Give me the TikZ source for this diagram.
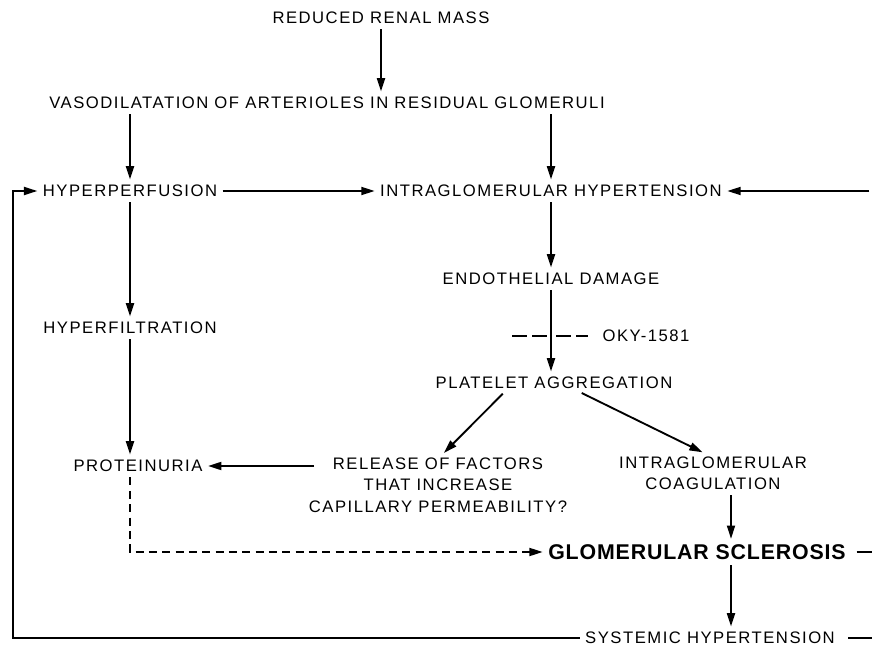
\documentclass[tikz,border=0pt]{standalone}
\usepackage{fontspec}
\setmainfont{Liberation Sans}[LetterSpace=9]
\newfontfamily\sclfont{Liberation Sans}[LetterSpace=4]
\usetikzlibrary{arrows.meta,positioning}
\tikzset{
    >={Triangle[length=10pt,width=6pt]}, % long filled heads
    txt/.style={inner sep=2pt, font=\fontsize{12.5}{16}\selectfont},
    big/.style={inner sep=2pt, font=\sclfont\fontsize{16}{19}\selectfont\bfseries},
    link/.style={line width=1.4pt, shorten <=2pt},
    flow/.style={link, ->, shorten >=2pt},
    dashflow/.style={flow, dash pattern=on 6pt off 4pt},
    blocker/.style={line width=2.2pt, dash pattern=on 11pt off 4pt},
}

\begin{document}
\begin{tikzpicture}[x=0.75pt, y=-0.75pt]
    \useasboundingbox (0,0) rectangle (872,652);

    % texts
    \node[txt] (mass) at (381,18) {REDUCED RENAL MASS};
    \node[txt] (vaso) at (327,103) {VASODILATATION OF ARTERIOLES IN RESIDUAL GLOMERULI};
    \node[txt] (perf) at (130,191) {HYPERPERFUSION};
    \node[txt] (ight) at (551,191) {INTRAGLOMERULAR HYPERTENSION};
    \node[txt] (endo) at (551,279) {ENDOTHELIAL DAMAGE};
    \node[txt] (filt) at (130,328) {HYPERFILTRATION};
    \node[txt] (oky) at (646,336) {OKY-1581};
    \node[txt] (plt) at (554,383) {PLATELET AGGREGATION};
    \node[txt] (prot) at (138,466) {PROTEINURIA};
    \node[txt, align=center] (rel) at (438,485)
        {RELEASE OF FACTORS\\THAT INCREASE\\CAPILLARY PERMEABILITY?};
    \node[txt, align=center] (coag) at (713,473) {INTRAGLOMERULAR\\COAGULATION};
    \node[big] (scl) at (697,552) {GLOMERULAR SCLEROSIS};
    \node[txt] (sys) at (710,638) {SYSTEMIC HYPERTENSION};

    % helper points
    \coordinate (col) at (731,0);
    \coordinate (edge) at (872,0);
    \coordinate (corner) at (13,638);
    \coordinate (cut) at (endo.south |- oky);

    % arrows
    \draw[flow] (mass.south) -- (mass.south |- vaso.north);
    \draw[flow] (vaso.south -| perf) -- (perf);
    \draw[flow] (vaso.south -| ight) -- (ight);
    \draw[flow] (perf) -- (ight);
    \draw[flow] (edge |- ight) -- (ight);
    \draw[flow] (perf) -- (filt);
    \draw[flow] (filt.south) -- (filt.south |- prot.north);
    \draw[flow] (ight) -- (endo);
    \draw[flow] (endo.south) -- (endo.south |- plt.north);
    \draw[blocker] ([xshift=-29pt]cut) -- ([xshift=-3pt]cut);
    \draw[blocker] ([xshift=4pt]cut) -- ([xshift=28pt]cut);
    \draw[flow] ([xshift=-37pt]plt.south) -- ([xshift=3pt]rel.north);
    \draw[flow] ([xshift=19pt]plt.south) -- ([xshift=-6pt]coag.north);
    \draw[flow] ([xshift=8pt]rel.west |- prot) -- (prot);
    \draw[flow] (coag.south -| col) -- (scl.north -| col);
    \draw[dashflow] (prot.south -| filt) -- (filt |- scl) -- (scl.west);
    \draw[flow] (scl.south -| col) -- (sys.north -| col);
    \draw[link] ([xshift=4pt]scl.east) -- (edge |- scl);
    \draw[link] ([xshift=6pt]sys.east) -- (edge |- sys);
    \draw[flow] (sys.west) -- (corner) |- (perf.west);
\end{tikzpicture}
\end{document}
